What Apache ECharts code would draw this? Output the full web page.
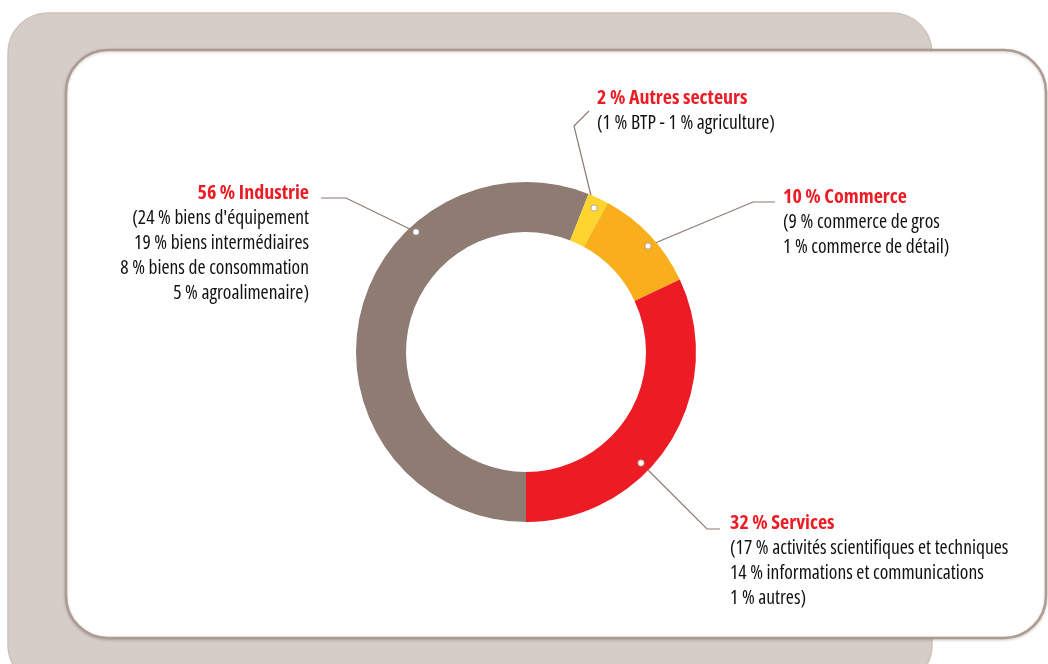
<!DOCTYPE html>
<html>
<head>
<meta charset="utf-8">
<script src="https://cdn.jsdelivr.net/npm/echarts@6/dist/echarts.min.js"></script>
<style>
  html, body { margin: 0; padding: 0; background: #ffffff; }
  #chart { width: 1048px; height: 664px; }
</style>
</head>
<body>
<div id="chart"></div>
<script>
// sectors, clockwise from the bottom of the ring
const sectors = ['Industrie', 'Autres secteurs', 'Commerce', 'Services'];
const shares = [56, 2, 10, 32];
const details = [
  ["24 % biens d'équipement", '19 % biens intermédiaires', '8 % biens de consommation', '5 % agroalimenaire'],
  ['1 % BTP - 1 % agriculture'],
  ['9 % commerce de gros', '1 % commerce de détail'],
  ['17 % activités scientifiques et techniques', '14 % informations et communications', '1 % autres']
];
const colors = ['#8e7b72', '#fed42f', '#f9ae1c', '#ed1c24'];

// where each callout sits (pixels): dot, elbow, end of line, text anchor
const callouts = [
  { line: [[416, 232], [346, 198], [321, 198]], x: 309, y: 181, align: 'right' },
  { line: [[594, 208], [574, 126], [589, 111]], x: 597, y: 86, align: 'left' },
  { line: [[648, 246], [753, 202], [775, 202]], x: 783, y: 185, align: 'left' },
  { line: [[641, 463], [707, 529], [720, 529]], x: 730, y: 511, align: 'left' }
];

// the variable Open Sans gives a narrow cut with the "condensed" keyword
const font = "'Open Sans'";

const chart = echarts.init(document.getElementById('chart'));

function labelText(i) {
  const lines = details[i].slice();
  lines[0] = '(' + lines[0];
  lines[lines.length - 1] = lines[lines.length - 1] + ')';
  return '{t|' + shares[i] + ' % ' + sectors[i] + '}\n' +
    lines.map(l => '{b|' + l + '}').join('\n');
}

const pieData = sectors.map((name, i) => ({
  name: name,
  value: shares[i],
  itemStyle: { color: colors[i] },
  label: {
    align: callouts[i].align,
    rich: {
      t: { fontFamily: font, fontSize: 20, fontWeight: 'bold condensed', color: '#ed1c24', lineHeight: 25, align: callouts[i].align },
      b: { fontFamily: font, fontSize: 19.5, fontWeight: '500 condensed', color: '#111111', lineHeight: 25, align: callouts[i].align }
    }
  }
}));

const option = {
  animation: false,
  graphic: [
    {
      type: 'rect', z: -10,
      shape: { x: 8, y: 13, width: 924, height: 672, r: 40 },
      style: { fill: '#d7cdc7', stroke: '#cdc2bc', lineWidth: 1.5 }
    },
    {
      type: 'rect', z: -9,
      shape: { x: 66, y: 50, width: 980, height: 588, r: 42 },
      style: {
        fill: '#ffffff', stroke: '#ab9b93', lineWidth: 2.5,
        shadowColor: 'rgba(90,70,60,0.25)', shadowBlur: 3, shadowOffsetY: 1
      }
    }
  ].concat(callouts.map(c => ({
    type: 'circle', z: 100,
    shape: { cx: c.line[0][0], cy: c.line[0][1], r: 3.2 },
    style: { fill: '#ffffff', stroke: '#9c8c84', lineWidth: 0.8 }
  }))),
  series: [
    {
      type: 'pie',
      center: [526, 352],
      radius: [120, 170],
      startAngle: -90,
      clockwise: true,
      avoidLabelOverlap: false,
      label: {
        show: true,
        position: 'outside',
        formatter: p => labelText(p.dataIndex)
      },
      labelLine: {
        show: true,
        lineStyle: { color: '#8a7a72', width: 1.2 }
      },
      labelLayout: p => {
        const c = callouts[p.dataIndex];
        return {
          x: c.x,
          y: c.y,
          align: c.align,
          verticalAlign: 'top',
          labelLinePoints: c.line
        };
      },
      emphasis: { disabled: true },
      data: pieData
    }
  ]
};

chart.setOption(option);
</script>
</body>
</html>
